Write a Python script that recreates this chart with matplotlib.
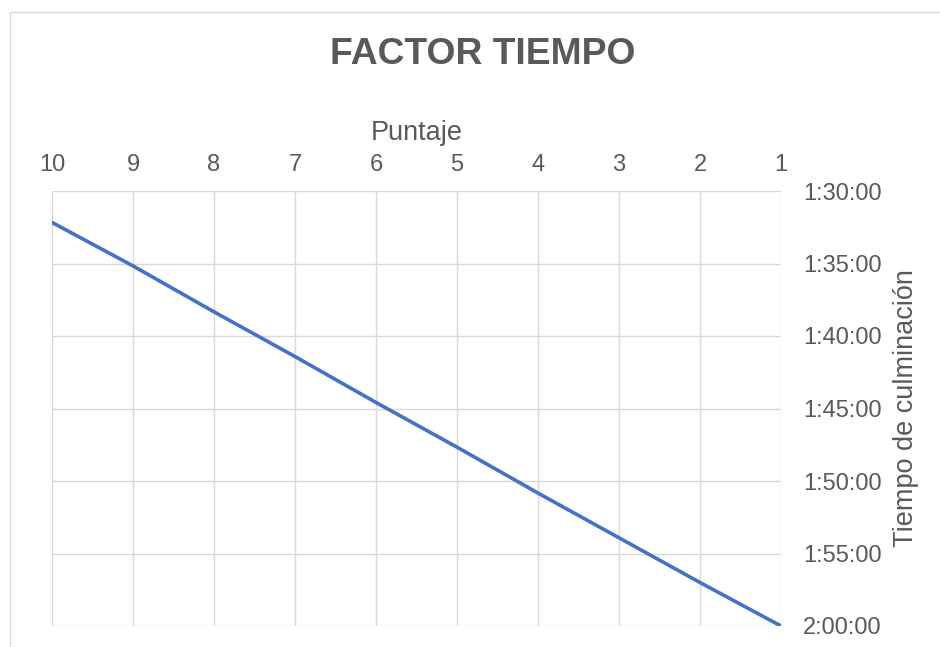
import matplotlib.pyplot as plt
from matplotlib.patches import Rectangle
from matplotlib.ticker import FuncFormatter, MultipleLocator

# datos: puntaje vs tiempo de culminacion (h:mm:ss)
puntaje = [10, 9, 8, 7, 6, 5, 4, 3, 2, 1]
tiempos = ["1:32:10", "1:35:10", "1:38:20", "1:41:25", "1:44:35",
           "1:47:40", "1:50:50", "1:53:55", "1:57:00", "2:00:00"]


def a_segundos(t):
    h, m, s = t.split(":")
    return int(h) * 3600 + int(m) * 60 + int(s)


def a_hms(v, pos=None):
    v = int(round(v))
    return "%d:%02d:%02d" % (v // 3600, (v % 3600) // 60, v % 60)


segundos = [a_segundos(t) for t in tiempos]

gris = "#595959"
plt.rcParams['font.family'] = ['Liberation Sans', 'DejaVu Sans']

fig = plt.figure(figsize=(9.4, 6.47), dpi=100)
fig.patches.append(Rectangle((9.5 / 940, -0.1), 1.2, 1 - 11.5 / 647 + 0.1,
                             transform=fig.transFigure, fill=False,
                             edgecolor="#d9d9d9", linewidth=1.0))

ax = fig.add_axes([52 / 940, 1 - 626 / 647, 729 / 940, 435 / 647])
ax.plot(puntaje, segundos, color="#4472C4", linewidth=2.6, solid_capstyle="round")

ax.set_xlim(10, 1)
ax.set_ylim(7200, 5400)
ax.xaxis.set_major_locator(MultipleLocator(1))
ax.yaxis.set_major_locator(MultipleLocator(300))
ax.yaxis.set_major_formatter(FuncFormatter(a_hms))

ax.xaxis.tick_top()
ax.xaxis.set_label_position("top")
ax.yaxis.tick_right()
ax.yaxis.set_label_position("right")

ax.grid(True, color="#d9d9d9", linewidth=1.0)
for s in ax.spines.values():
    s.set_visible(False)
ax.tick_params(length=0, labelsize=17, colors=gris)
ax.tick_params(axis="x", pad=11)
ax.tick_params(axis="y", pad=16)

ax.set_xlabel("Puntaje", fontsize=19.5, color=gris, labelpad=10)
ax.set_ylabel("Tiempo de culminación", fontsize=19.5, color=gris, labelpad=8)

fig.text(483 / 940, 1 - 55 / 647, "FACTOR TIEMPO", ha="center", va="center",
         fontsize=26.8, fontweight="bold", color=gris)

fig.savefig("out.png", dpi=100, facecolor="white")
